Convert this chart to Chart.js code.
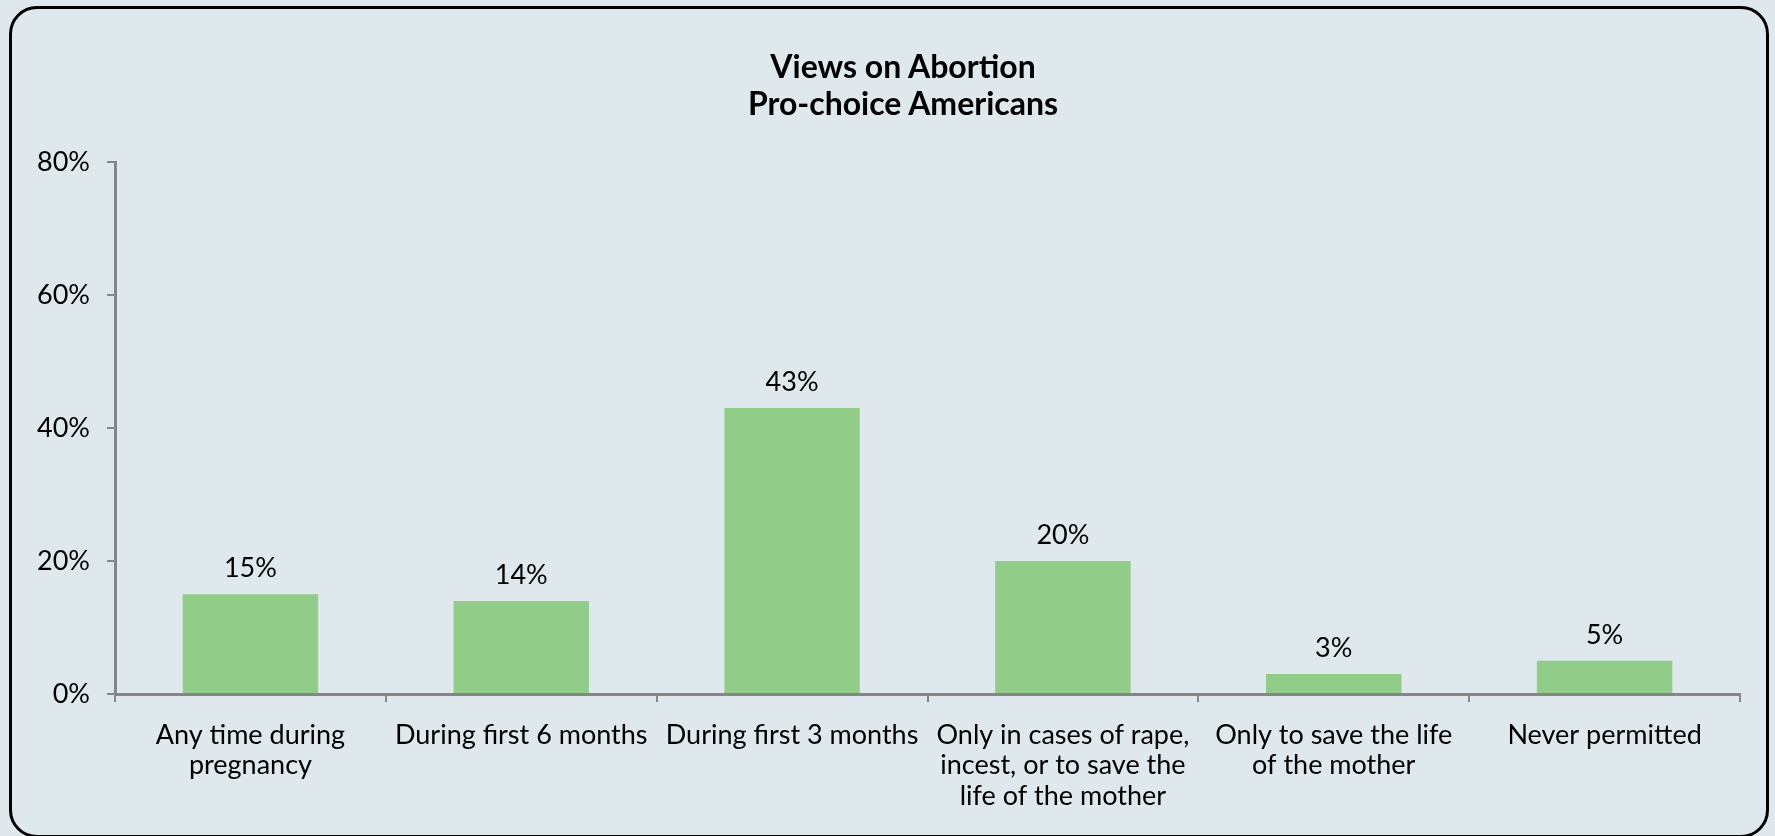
<!DOCTYPE html>
<html>
<head>
<meta charset="utf-8">
<script src="https://cdn.jsdelivr.net/npm/chart.js@4"></script>
<style>
  html, body { margin: 0; padding: 0; background: #dee8ed; overflow: hidden; }
  #frame {
    position: absolute; left: 9px; top: 6px; width: 1760px; height: 832px;
    box-sizing: border-box; border: 3px solid #000; border-radius: 28px;
    background: #dee8ed;
  }
  #myChart { position: absolute; left: 0; top: 0; }
  #title {
    position: absolute; left: 0; top: 47px; width: 1806px; text-align: center;
    font: bold 32px Lato, "Noto Sans", sans-serif; line-height: 37px; color: #000;
  }
</style>
</head>
<body>
<div id="frame"></div>
<canvas id="myChart" width="1775" height="836"></canvas>
<div id="title"></div>
<script>
'use strict';
const titleLines = ['Views on Abortion', 'Pro-choice Americans'];
const categories = [
  ['Any time during', 'pregnancy'],
  'During first 6 months',
  'During first 3 months',
  ['Only in cases of rape,', 'incest, or to save the', 'life of the mother'],
  ['Only to save the life', 'of the mother'],
  'Never permitted',
];
const percents = [15, 14, 43, 20, 3, 5];
const yTicks = [0, 20, 40, 60, 80];

const fontName = 'Lato, "Noto Sans", sans-serif';
const axisGray = '#868686';

const titleEl = document.getElementById('title');
titleLines.forEach(function(line) {
  let divEl = document.createElement('div');
  divEl.textContent = line;
  titleEl.appendChild(divEl);
});

// labels on top of each bar
const barLabels = {
  id: 'barLabels',
  afterDatasetsDraw(chart) {
    const ctx = chart.ctx;
    const meta = chart.getDatasetMeta(0);
    ctx.save();
    ctx.font = '27px ' + fontName;
    ctx.fillStyle = '#000';
    ctx.textAlign = 'center';
    ctx.textBaseline = 'alphabetic';
    meta.data.forEach(function(bar, i) {
      ctx.fillText(percents[i] + '%', bar.x, bar.y - 17);
    });
    ctx.restore();
  }
};

let ctx = document.getElementById('myChart').getContext('2d');
let chart = new Chart(ctx, {
  type: 'bar',
  data: {
    labels: categories,
    datasets: [{
      label: 'Pro-choice Americans',
      backgroundColor: '#92cc89',
      data: percents
    }]
  },
  options: {
    responsive: false,
    animation: false,
    layout: { padding: { left: 0, right: 35, top: 162, bottom: 0 } },
    plugins: {
      legend: { display: false },
      tooltip: { enabled: false },
      title: { display: false }
    },
    scales: {
      x: {
        afterFit: function(scale) { scale.height = 142; },
        grid: {
          display: true, drawOnChartArea: false, drawTicks: true,
          tickLength: 8, color: axisGray, lineWidth: 2
        },
        border: { display: true, color: axisGray, width: 3 },
        ticks: {
          color: '#000', padding: 18, maxRotation: 0, autoSkip: false,
          font: { family: fontName, size: 27, lineHeight: 1.13 }
        }
      },
      y: {
        min: 0, max: 80,
        afterFit: function(scale) { scale.width = 115; },
        afterBuildTicks: function(scale) { scale.ticks = yTicks.map(v => ({ value: v })); },
        grid: {
          display: true, drawOnChartArea: false, drawTicks: true,
          tickLength: 8, color: axisGray, lineWidth: 2
        },
        border: { display: true, color: axisGray, width: 3 },
        ticks: {
          color: '#000', padding: 17,
          font: { family: fontName, size: 27 },
          callback: function(v) { return v + '%'; }
        }
      }
    },
    datasets: { bar: { categoryPercentage: 1, barPercentage: 0.5 } }
  },
  plugins: [barLabels]
});
</script>
</body>
</html>
